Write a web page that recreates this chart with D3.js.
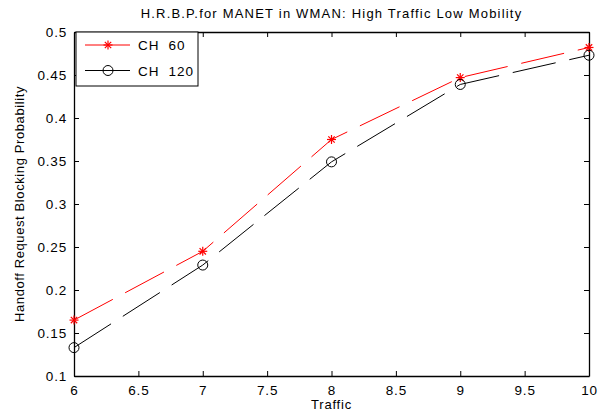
<!DOCTYPE html>
<html>
<head>
<meta charset="utf-8">
<script src="https://cdn.jsdelivr.net/npm/d3@7"></script>
<style>
  body { margin: 0; background: #fff; }
  text { font-family: "Liberation Sans", Arial, sans-serif; fill: #000; }
</style>
</head>
<body>
<div class="chart"></div>
<script>
const traffic = [6, 7, 8, 9, 10]
const ch60 = [0.165, 0.245, 0.375, 0.447, 0.482]
const ch120 = [0.133, 0.229, 0.349, 0.439, 0.473]
const xTicks = [6, 6.5, 7, 7.5, 8, 8.5, 9, 9.5, 10]
const yTicks = [0.1, 0.15, 0.2, 0.25, 0.3, 0.35, 0.4, 0.45, 0.5]
const seriesNames = ['CH  60', 'CH  120']

const W = 606
const H = 416
const margin = { top: 32, right: 17, bottom: 40, left: 74 }
const TICK = 5

const svg = d3.select('.chart').append('svg')
	.attr('width', W)
	.attr('height', H)

const x = d3.scaleLinear().domain([6, 10]).range([margin.left, W - margin.right])
const y = d3.scaleLinear().domain([0.1, 0.5]).range([H - margin.bottom, margin.top])

const series = [
	{ name: seriesNames[0], values: ch60, color: '#ff0000', marker: 'star' },
	{ name: seriesNames[1], values: ch120, color: '#000000', marker: 'circle' },
]

// axes, matlab style: inward ticks on all four sides
const fmt = d => String(d)
svg.append('g').attr('transform', `translate(0,${y(0.1)})`)
	.call(d3.axisBottom(x).tickValues(xTicks).tickFormat(fmt).tickSizeInner(-TICK).tickSizeOuter(0).tickPadding(9))
svg.append('g').attr('transform', `translate(${x(6)},0)`)
	.call(d3.axisLeft(y).tickValues(yTicks).tickFormat(fmt).tickSizeInner(-TICK).tickSizeOuter(0).tickPadding(7))
svg.append('g').attr('transform', `translate(0,${y(0.5)})`)
	.call(d3.axisTop(x).tickValues(xTicks).tickFormat('').tickSizeInner(-TICK).tickSizeOuter(0))
svg.append('g').attr('transform', `translate(${x(10)},0)`)
	.call(d3.axisRight(y).tickValues(yTicks).tickFormat('').tickSizeInner(-TICK).tickSizeOuter(0))

svg.selectAll('.domain').attr('stroke', '#000').attr('stroke-width', 1.3)
svg.selectAll('.tick line').attr('stroke', '#000')
svg.selectAll('.tick text').style('font-size', '13.5px').attr('fill', '#000')
	.style('letter-spacing', '0.8px')
	.style('font-family', '"Liberation Sans", Arial, sans-serif')

const line = d3.line().x((d, i) => x(traffic[i])).y(d => y(d))

function drawMarker(g, type, color) {
	if (type === 'circle') {
		g.append('circle').attr('r', 5).attr('fill', 'none').attr('stroke', color).attr('stroke-width', 1)
	} else {
		const r = 4.5
		for (let a = 0; a < 4; a++) {
			const t = a * Math.PI / 4
			g.append('line')
				.attr('x1', -r * Math.cos(t)).attr('y1', -r * Math.sin(t))
				.attr('x2', r * Math.cos(t)).attr('y2', r * Math.sin(t))
				.attr('stroke', color).attr('stroke-width', 1.2)
		}
	}
}

series.forEach(s => {
	svg.append('path')
		.datum(s.values)
		.attr('d', line)
		.attr('fill', 'none')
		.attr('stroke', s.color)
		.attr('stroke-width', 1)
		.attr('stroke-dasharray', '44 14')

	s.values.forEach((v, i) => {
		const g = svg.append('g').attr('transform', `translate(${x(traffic[i])},${y(v)})`)
		drawMarker(g, s.marker, s.color)
	})
})

// legend
const legend = svg.append('g').attr('transform', `translate(${x(6) + 2},${y(0.5)})`)
legend.append('rect')
	.attr('width', 122).attr('height', 54)
	.attr('fill', '#fff').attr('stroke', '#000').attr('stroke-width', 1)
series.forEach((s, i) => {
	const ly = 13 + i * 25.5
	legend.append('line')
		.attr('x1', 9).attr('x2', 54).attr('y1', ly).attr('y2', ly)
		.attr('stroke', s.color).attr('stroke-width', 1)
	drawMarker(legend.append('g').attr('transform', `translate(32,${ly})`), s.marker, s.color)
	legend.append('text')
		.attr('x', 62).attr('y', ly + 5)
		.style('font-size', '13.5px')
		.style('letter-spacing', '0.9px')
		.style('white-space', 'pre')
		.text(s.name)
})

// labels
svg.append('text')
	.attr('x', (x(6) + x(10)) / 2).attr('y', 18)
	.attr('text-anchor', 'middle')
	.style('font-size', '13px')
	.style('letter-spacing', '1.2px')
	.text('H.R.B.P.for MANET in WMAN: High Traffic Low Mobility')

svg.append('text')
	.attr('x', (x(6) + x(10)) / 2).attr('y', 409)
	.attr('text-anchor', 'middle')
	.style('font-size', '13px')
	.style('letter-spacing', '0.8px')
	.text('Traffic')

svg.append('text')
	.attr('transform', `translate(24,${(y(0.1) + y(0.5)) / 2}) rotate(-90)`)
	.attr('text-anchor', 'middle')
	.style('font-size', '13px')
	.style('letter-spacing', '0.6px')
	.text('Handoff Request Blocking Probability')
</script>
</body>
</html>
